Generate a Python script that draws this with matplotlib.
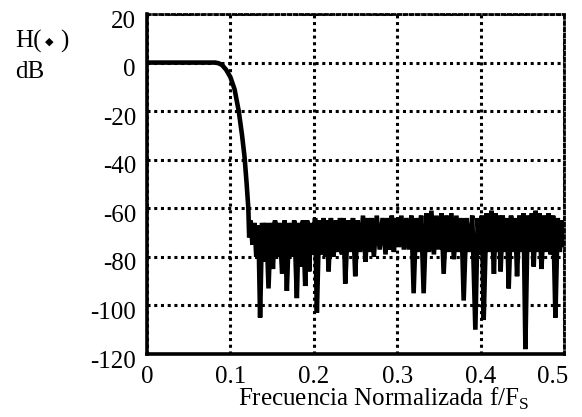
import numpy as np
import matplotlib
matplotlib.use("Agg")
import matplotlib.pyplot as plt
from matplotlib.transforms import ScaledTranslation

# Banda de paso y transicion
f_pass = [0.0, 0.082, 0.086, 0.090, 0.095, 0.100, 0.105, 0.110, 0.114, 0.117, 0.1195, 0.1215]
db_pass = [0.0, 0.0, -0.3, -1.0, -3.0, -6.0, -11.0, -20.0, -30.0, -39.0, -50.0, -60.0]

# Banda de rechazo: picos y nulos alternados
f_stop = [0.1225, 0.1240, 0.1265, 0.1290, 0.1310, 0.1335, 0.1356, 0.1380, 0.1405, 0.1430,
          0.1457, 0.1485, 0.1510, 0.1535, 0.1560, 0.1590, 0.1620, 0.1650, 0.1677, 0.1705,
          0.1737, 0.1765, 0.1797, 0.1820, 0.1845, 0.1870, 0.1897, 0.1920, 0.1945, 0.1968,
          0.1990, 0.2015, 0.2037, 0.2065, 0.2090, 0.2115, 0.2137, 0.2157, 0.2177, 0.2205,
          0.2237, 0.2265, 0.2290, 0.2315, 0.2337, 0.2357, 0.2377, 0.2410, 0.2440, 0.2470,
          0.2497, 0.2525, 0.2555, 0.2590, 0.2620, 0.2645, 0.2670, 0.2695, 0.2720, 0.2755,
          0.2790, 0.2825, 0.2860, 0.2885, 0.2910, 0.2935, 0.2960, 0.2990, 0.3020, 0.3050,
          0.3080, 0.3110, 0.3140, 0.3170, 0.3197, 0.3227, 0.3257, 0.3287, 0.3317, 0.3350,
          0.3380, 0.3410, 0.3440, 0.3470, 0.3500, 0.3530, 0.3557, 0.3590, 0.3620, 0.3650,
          0.3680, 0.3710, 0.3740, 0.3770, 0.3797, 0.3830, 0.3860, 0.3900, 0.3937, 0.3965,
          0.3990, 0.4015, 0.4037, 0.4070, 0.4100, 0.4130, 0.4160, 0.4180, 0.4200, 0.4220,
          0.4240, 0.4265, 0.4290, 0.4315, 0.4337, 0.4365, 0.4390, 0.4415, 0.4437, 0.4465,
          0.4490, 0.4515, 0.4537, 0.4565, 0.4590, 0.4615, 0.4637, 0.4660, 0.4680, 0.4705,
          0.4730, 0.4760, 0.4790, 0.4815, 0.4840, 0.4870, 0.4897, 0.4925, 0.4950, 0.4975,
          0.5000]
db_stop = [-72.0, -65.0, -75.0, -66.0, -80.0, -67.0, -105.0, -66.0, -82.0, -66.0,
           -93.0, -66.0, -85.0, -65.0, -80.0, -66.0, -87.0, -65.0, -94.0, -66.0,
           -80.0, -65.0, -97.0, -66.0, -84.0, -65.0, -92.0, -65.0, -86.0, -66.0,
           -79.0, -64.0, -103.0, -65.0, -79.0, -64.0, -80.0, -65.0, -86.0, -64.0,
           -80.0, -65.0, -78.0, -64.0, -79.0, -64.0, -91.0, -65.0, -78.0, -64.0,
           -88.0, -65.0, -78.0, -63.0, -82.0, -64.0, -78.0, -64.0, -80.0, -63.0,
           -77.0, -64.0, -79.0, -64.0, -77.0, -63.0, -78.0, -64.0, -76.0, -63.0,
           -77.0, -64.0, -77.0, -63.0, -95.0, -64.0, -78.0, -63.0, -95.0, -62.0,
           -78.0, -61.0, -79.0, -63.0, -77.0, -62.0, -87.0, -63.0, -78.0, -62.0,
           -81.0, -63.0, -78.0, -64.0, -98.0, -64.0, -78.0, -63.0, -110.0, -64.0,
           -79.0, -63.0, -106.0, -62.0, -78.0, -61.0, -87.0, -62.0, -78.0, -63.0,
           -86.0, -63.0, -78.0, -64.0, -93.0, -63.0, -78.0, -64.0, -88.0, -63.0,
           -78.0, -62.0, -118.0, -63.0, -78.0, -62.0, -84.0, -61.0, -78.0, -62.0,
           -85.0, -63.0, -78.0, -62.0, -79.0, -63.0, -105.0, -64.0, -78.0, -65.0,
           -75.0]

xticks = [0, 0.1, 0.2, 0.3, 0.4, 0.5]
xtick_labels = ["0", "0.1", "0.2", "0.3", "0.4", "0.5"]
yticks = [20, 0, -20, -40, -60, -80, -100, -120]

plt.rcParams['font.family'] = ['Liberation Serif', 'DejaVu Serif']
plt.rcParams['mathtext.fontset'] = 'custom'
plt.rcParams['mathtext.rm'] = 'Liberation Serif'
plt.rcParams['axes.unicode_minus'] = False

fig = plt.figure(figsize=(5.82, 4.17), dpi=100)
ax = fig.add_axes([147/582, 1 - 354/417, (564 - 147)/582, (354 - 14)/417])

f = f_pass + f_stop
db = db_pass + db_stop
ax.plot(f, db, color='black', linewidth=3.3, solid_joinstyle='miter')

ax.set_xlim(0, 0.5)
ax.set_ylim(-120, 20)
ax.set_xticks(xticks)
ax.set_xticklabels(xtick_labels)
ax.set_yticks(yticks)
ax.tick_params(length=0, labelsize=18)
ax.tick_params(axis='x', pad=8.5)
ax.tick_params(axis='y', pad=8.0)

ax.grid(True, color='black', linestyle=(0, (1.0, 1.2)), linewidth=2.2)

for s in ['left', 'bottom']:
    ax.spines[s].set_linewidth(2.6)
for s in ['top', 'right']:
    ax.spines[s].set_linestyle((0, (1.0, 1.2)))
    ax.spines[s].set_linewidth(2.0)

# desplazar etiquetas como en el original
for lab in ax.get_yticklabels():
    lab.set_transform(lab.get_transform() + ScaledTranslation(0, -5/100, fig.dpi_scale_trans))
lab5 = ax.get_xticklabels()[-1]
lab5.set_transform(lab5.get_transform() + ScaledTranslation(-11/100, 0, fig.dpi_scale_trans))

fig.text(384/582, 1 - 406/417, 'Frecuencia Normalizada f/F$_\\mathregular{S}$',
         ha='center', va='baseline', fontsize=18)

# etiqueta del eje y
fig.text(15/582, 1 - 48/417, 'H(', ha='left', va='baseline', fontsize=18)
fig.text(49/582, 1 - 42/417, '\u25c6', ha='center', va='center', fontsize=8,
         family=['DejaVu Sans'])
fig.text(60/582, 1 - 48/417, ')', ha='left', va='baseline', fontsize=18)
fig.text(15/582, 1 - 78/417, 'dB', ha='left', va='baseline', fontsize=18)

fig.savefig('out.png', dpi=100)
